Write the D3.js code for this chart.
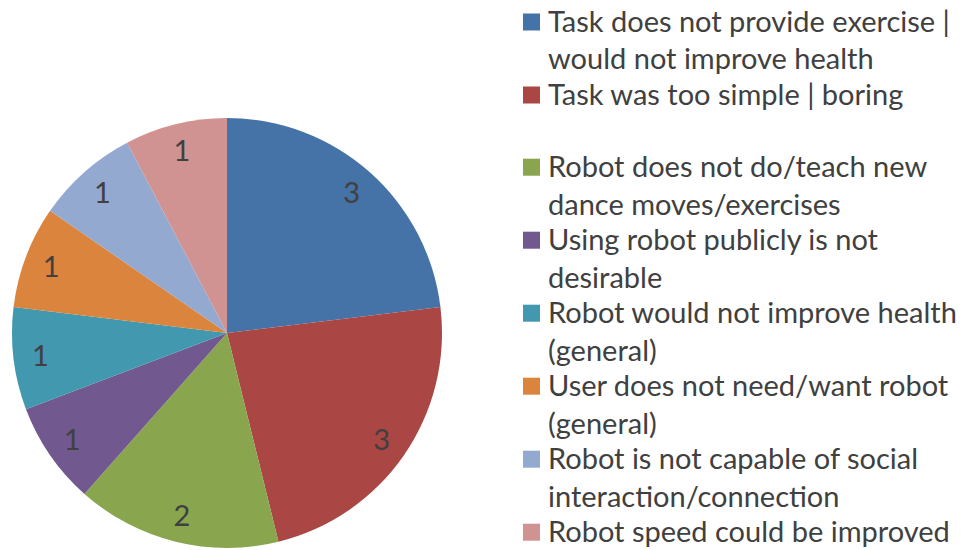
<!DOCTYPE html>
<html>
<head>
<meta charset="utf-8">
<script src="https://cdn.jsdelivr.net/npm/d3@7"></script>
<style>
  html, body { margin: 0; padding: 0; background: #fff; }
  svg text { font-family: Lato, "Open Sans", sans-serif; fill: #404040; }
</style>
</head>
<body>
<svg id="chart" width="965" height="550"></svg>
<script>
var categories = [
    'Task does not provide exercise | would not improve health',
    'Task was too simple | boring',
    'Robot does not do/teach new dance moves/exercises',
    'Using robot publicly is not desirable',
    'Robot would not improve health (general)',
    'User does not need/want robot (general)',
    'Robot is not capable of social interaction/connection',
    'Robot speed could be improved'
];
// legend text as it wraps in the original
var legendLines = [
    ['Task does not provide exercise |', 'would not improve health'],
    ['Task was too simple | boring'],
    ['Robot does not do/teach new', 'dance moves/exercises'],
    ['Using robot publicly is not', 'desirable'],
    ['Robot would not improve health', '(general)'],
    ['User does not need/want robot', '(general)'],
    ['Robot is not capable of social', 'interaction/connection'],
    ['Robot speed could be improved']
];
var counts = [3, 3, 2, 1, 1, 1, 1, 1];
var colors = ['#4572A7', '#AA4643', '#89A54E', '#71588F', '#4198AF', '#DB843D', '#93A9CF', '#D19392'];

var svg = d3.select('#chart');

var cx = 227, cy = 333, radius = 215;

var color = d3.scaleOrdinal().domain(categories).range(colors);

var pie = d3.pie().sort(null).value(function (d) { return d.value; });
var data = categories.map(function (c, i) { return {name: c, value: counts[i]}; });
var arcs = pie(data);

var arc = d3.arc().innerRadius(0).outerRadius(radius);
var labelArc = d3.arc().innerRadius(188).outerRadius(188);

var g = svg.append('g').attr('transform', 'translate(' + cx + ',' + cy + ')');

g.selectAll('.slice')
    .data(arcs)
    .enter()
    .append('path')
    .attr('class', 'slice')
    .attr('d', arc)
    .style('fill', function (d) { return color(d.data.name); });

g.selectAll('.lbl')
    .data(arcs)
    .enter()
    .append('text')
    .attr('class', 'lbl')
    .attr('transform', function (d) { return 'translate(' + labelArc.centroid(d) + ')'; })
    .attr('text-anchor', 'middle')
    .attr('dy', '0.36em')
    .style('font-size', '29px')
    .text(function (d) { return d.data.value; });

// legend
var legendX = 523, lineStep = 37.8, entryGap = 35.2, blankGap = 37;
var y = 31.5;
var legend = svg.append('g').attr('class', 'legend');

legendLines.forEach(function (lines, i) {
    legend.append('rect')
        .attr('x', legendX)
        .attr('y', y - 18)
        .attr('width', 17)
        .attr('height', 17)
        .style('fill', colors[i]);
    lines.forEach(function (line, j) {
        legend.append('text')
            .attr('x', legendX + 25)
            .attr('y', y + j * lineStep)
            .style('font-size', '29px')
            .text(line);
    });
    y += (lines.length - 1) * lineStep + entryGap;
    if (i === 1) y += blankGap;
});
</script>
</body>
</html>
